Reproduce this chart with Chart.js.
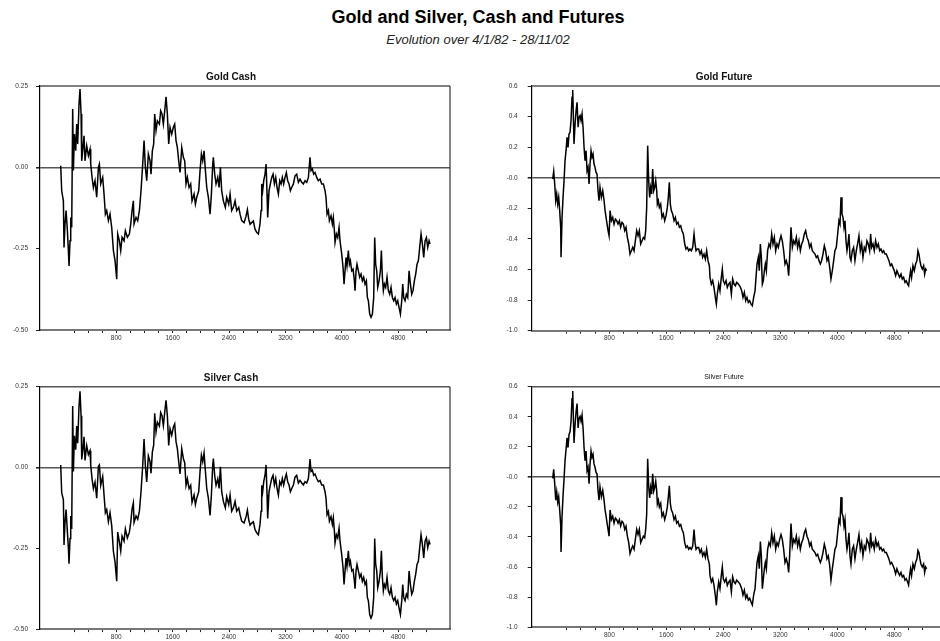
<!DOCTYPE html>
<html>
<head>
<meta charset="utf-8">
<script src="https://cdn.jsdelivr.net/npm/chart.js@4.4.1/dist/chart.umd.min.js"></script>
<style>
  html, body { margin: 0; padding: 0; background: #fff; overflow: hidden; width: 940px; height: 641px; }
  body { position: relative; font-family: "Liberation Sans", Arial, sans-serif; }
  #title { position: absolute; left: 8px; width: 940px; top: 7px; text-align: center; font-weight: bold; font-size: 18px; color: #000; }
  #subtitle { position: absolute; left: 8px; width: 940px; top: 32px; text-align: center; font-style: italic; font-size: 13px; color: #222; }
  canvas { position: absolute; }
</style>
</head>
<body>
<div id="title">Gold and Silver, Cash and Futures</div>
<div id="subtitle">Evolution over 4/1/82 - 28/11/02</div>
<canvas id="goldCash" width="470" height="290" style="left:0;top:60px"></canvas>
<canvas id="goldFuture" width="480" height="290" style="left:470px;top:60px"></canvas>
<canvas id="silverCash" width="470" height="291" style="left:0;top:350px"></canvas>
<canvas id="silverFuture" width="480" height="291" style="left:470px;top:350px"></canvas>
<script>
const FONT = '"Liberation Sans", Arial, sans-serif';

// observation number on x, tick marks every 200, labels every 800
const X_TICKS = [200, 400, 600, 800, 1000, 1200, 1400, 1600, 1800, 2000, 2200, 2400, 2600,
  2800, 3000, 3200, 3400, 3600, 3800, 4000, 4200, 4400, 4600, 4800, 5000, 5200];
const X_LABELS = [800, 1600, 2400, 3200, 4000, 4800];
const CASH_Y_TICKS = [-0.5, -0.25, 0, 0.25];
const FUT_Y_TICKS = [-1.0, -0.8, -0.6, -0.4, -0.2, 0, 0.2, 0.4, 0.6];

// [observation, value]
const GOLD_CASH = [
  [11,0.005],[25,-0.072],[49,-0.103],[58,-0.246],[72,-0.174],[87,-0.133],[106,-0.195],[120,-0.256],
  [129,-0.303],[143,-0.226],[153,-0.154],[167,-0.185],[181,0.179],[191,-0.010],[205,0.102],[224,0.051],
  [238,0.133],[252,0.072],[271,0.195],[285,0.241],[300,0.164],[309,0.020],[323,0.051],[342,0.097],
  [356,0.020],[380,0.066],[404,0.036],[427,0.056],[437,0.010],[456,-0.031],[475,-0.062],[498,-0.041],
  [522,-0.092],[546,0.000],[560,0.010],[579,-0.051],[607,-0.031],[626,-0.082],[645,-0.144],[664,-0.133],
  [688,-0.164],[711,-0.144],[735,-0.185],[759,-0.256],[782,-0.287],[806,-0.344],[820,-0.205],[844,-0.226],
  [863,-0.256],[882,-0.215],[910,-0.226],[929,-0.195],[957,-0.215],[986,-0.205],[1005,-0.174],[1024,-0.133],
  [1042,-0.103],[1052,-0.174],[1080,-0.154],[1104,-0.164],[1128,-0.133],[1151,-0.072],[1175,0.010],[1194,0.082],
  [1213,0.000],[1232,-0.041],[1255,0.041],[1279,0.020],[1293,-0.021],[1312,0.051],[1331,0.072],[1345,0.164],
  [1364,0.113],[1383,0.143],[1412,0.133],[1430,0.174],[1449,0.164],[1468,0.133],[1492,0.184],[1506,0.217],
  [1525,0.164],[1544,0.072],[1563,0.123],[1587,0.102],[1610,0.123],[1629,0.133],[1648,0.082],[1667,0.061],
  [1686,0.020],[1705,-0.016],[1729,0.061],[1752,0.031],[1771,0.020],[1790,-0.051],[1809,-0.031],[1833,-0.062],
  [1856,-0.051],[1875,-0.103],[1904,-0.082],[1923,-0.113],[1942,-0.092],[1970,-0.072],[1989,-0.010],[2008,0.041],
  [2027,0.020],[2046,0.051],[2065,-0.010],[2084,-0.062],[2107,-0.092],[2131,-0.144],[2150,-0.082],[2169,0.010],
  [2178,0.031],[2197,-0.021],[2216,-0.051],[2240,-0.031],[2259,-0.062],[2278,0.000],[2296,-0.072],[2320,-0.103],
  [2348,-0.123],[2367,-0.092],[2396,-0.113],[2415,-0.082],[2438,-0.133],[2462,-0.123],[2486,-0.103],[2509,-0.133],
  [2538,-0.123],[2557,-0.144],[2580,-0.164],[2614,-0.170],[2642,-0.150],[2661,-0.130],[2680,-0.160],[2699,-0.175],
  [2722,-0.170],[2746,-0.165],[2769,-0.190],[2793,-0.200],[2817,-0.205],[2840,-0.174],[2855,-0.133],[2864,-0.051],
  [2878,-0.072],[2893,-0.041],[2911,-0.021],[2926,0.010],[2940,-0.082],[2949,-0.154],[2968,-0.072],[2987,-0.051],
  [3006,-0.031],[3025,-0.021],[3044,-0.051],[3063,-0.031],[3082,-0.062],[3101,-0.082],[3120,-0.041],[3139,-0.051],
  [3157,-0.031],[3176,-0.051],[3195,-0.031],[3214,-0.016],[3233,-0.041],[3252,-0.051],[3271,-0.072],[3290,-0.062],
  [3314,-0.051],[3337,-0.026],[3361,-0.021],[3385,-0.046],[3408,-0.036],[3432,-0.046],[3456,-0.051],[3479,-0.041],
  [3503,-0.046],[3527,-0.031],[3550,0.031],[3564,-0.010],[3583,-0.005],[3602,-0.021],[3621,-0.016],[3645,-0.031],
  [3668,-0.041],[3692,-0.036],[3716,-0.051],[3740,-0.051],[3763,-0.072],[3777,-0.092],[3792,-0.144],[3811,-0.133],
  [3825,-0.164],[3848,-0.149],[3867,-0.174],[3881,-0.154],[3896,-0.195],[3905,-0.231],[3924,-0.205],[3943,-0.216],
  [3962,-0.185],[3976,-0.226],[4000,-0.267],[4019,-0.308],[4033,-0.359],[4047,-0.318],[4061,-0.277],[4075,-0.303],
  [4094,-0.256],[4109,-0.298],[4123,-0.287],[4142,-0.318],[4161,-0.313],[4180,-0.349],[4189,-0.379],[4203,-0.318],
  [4217,-0.298],[4236,-0.318],[4255,-0.338],[4274,-0.328],[4293,-0.349],[4312,-0.338],[4331,-0.359],[4350,-0.349],
  [4364,-0.400],[4378,-0.410],[4397,-0.451],[4416,-0.461],[4435,-0.451],[4454,-0.400],[4468,-0.216],[4482,-0.298],
  [4497,-0.318],[4511,-0.369],[4530,-0.349],[4549,-0.318],[4563,-0.256],[4577,-0.338],[4591,-0.379],[4606,-0.359],
  [4624,-0.369],[4643,-0.338],[4662,-0.379],[4681,-0.390],[4700,-0.369],[4719,-0.400],[4738,-0.410],[4757,-0.400],
  [4776,-0.420],[4795,-0.410],[4814,-0.431],[4833,-0.451],[4852,-0.410],[4866,-0.359],[4880,-0.400],[4899,-0.410],
  [4918,-0.390],[4937,-0.400],[4956,-0.318],[4975,-0.359],[4994,-0.390],[5012,-0.379],[5031,-0.349],[5050,-0.328],
  [5069,-0.298],[5088,-0.287],[5107,-0.246],[5126,-0.205],[5145,-0.236],[5164,-0.277],[5183,-0.226],[5202,-0.216],
  [5221,-0.246],[5240,-0.226],[5254,-0.236]
];

const SILVER_CASH = [
  [11,0.008],[25,-0.078],[49,-0.100],[58,-0.240],[72,-0.170],[87,-0.130],[106,-0.200],[120,-0.250],
  [129,-0.298],[143,-0.220],[153,-0.150],[167,-0.190],[181,0.190],[191,-0.012],[205,0.098],[224,0.055],
  [238,0.128],[252,0.075],[271,0.190],[285,0.236],[300,0.160],[309,0.025],[323,0.048],[342,0.095],
  [356,0.022],[380,0.068],[404,0.040],[427,0.052],[437,0.008],[456,-0.035],[475,-0.065],[498,-0.045],
  [522,-0.095],[546,0.004],[560,0.008],[579,-0.055],[607,-0.028],[626,-0.085],[645,-0.140],[664,-0.130],
  [688,-0.168],[711,-0.140],[735,-0.180],[759,-0.260],[782,-0.292],[806,-0.352],[820,-0.200],[844,-0.230],
  [863,-0.258],[882,-0.212],[910,-0.228],[929,-0.190],[957,-0.218],[986,-0.200],[1005,-0.170],[1024,-0.128],
  [1042,-0.110],[1052,-0.170],[1080,-0.150],[1104,-0.160],[1128,-0.135],[1151,-0.075],[1175,0.006],[1194,0.088],
  [1213,0.004],[1232,-0.045],[1255,0.036],[1279,0.018],[1293,-0.018],[1312,0.048],[1331,0.070],[1345,0.168],
  [1364,0.110],[1383,0.140],[1412,0.128],[1430,0.170],[1449,0.160],[1468,0.130],[1492,0.180],[1506,0.208],
  [1525,0.160],[1544,0.068],[1563,0.120],[1587,0.100],[1610,0.125],[1629,0.135],[1648,0.080],[1667,0.058],
  [1686,0.018],[1705,-0.020],[1729,0.058],[1752,0.028],[1771,0.015],[1790,-0.055],[1809,-0.035],[1833,-0.065],
  [1856,-0.055],[1875,-0.108],[1904,-0.085],[1923,-0.115],[1942,-0.095],[1970,-0.075],[1989,-0.012],[2008,0.038],
  [2027,0.018],[2046,0.045],[2065,-0.012],[2084,-0.065],[2107,-0.095],[2131,-0.148],[2150,-0.085],[2169,0.008],
  [2178,0.028],[2197,-0.025],[2216,-0.055],[2240,-0.035],[2259,-0.065],[2278,0.002],[2296,-0.075],[2320,-0.105],
  [2348,-0.125],[2367,-0.090],[2396,-0.115],[2415,-0.085],[2438,-0.135],[2462,-0.125],[2486,-0.105],[2509,-0.135],
  [2538,-0.125],[2557,-0.146],[2580,-0.166],[2614,-0.172],[2642,-0.152],[2661,-0.132],[2680,-0.162],[2699,-0.178],
  [2722,-0.172],[2746,-0.168],[2769,-0.192],[2793,-0.202],[2817,-0.208],[2840,-0.176],[2855,-0.135],[2864,-0.055],
  [2878,-0.075],[2893,-0.044],[2911,-0.024],[2926,0.008],[2940,-0.085],[2949,-0.158],[2968,-0.075],[2987,-0.054],
  [3006,-0.034],[3025,-0.024],[3044,-0.054],[3063,-0.034],[3082,-0.065],[3101,-0.085],[3120,-0.044],[3139,-0.054],
  [3157,-0.034],[3176,-0.054],[3195,-0.034],[3214,-0.020],[3233,-0.044],[3252,-0.054],[3271,-0.075],[3290,-0.065],
  [3314,-0.054],[3337,-0.030],[3361,-0.024],[3385,-0.048],[3408,-0.040],[3432,-0.048],[3456,-0.054],[3479,-0.044],
  [3503,-0.048],[3527,-0.034],[3550,0.026],[3564,-0.012],[3583,-0.008],[3602,-0.024],[3621,-0.020],[3645,-0.034],
  [3668,-0.044],[3692,-0.040],[3716,-0.054],[3740,-0.054],[3763,-0.075],[3777,-0.095],[3792,-0.146],[3811,-0.136],
  [3825,-0.166],[3848,-0.152],[3867,-0.176],[3881,-0.156],[3896,-0.198],[3905,-0.234],[3924,-0.208],[3943,-0.218],
  [3962,-0.188],[3976,-0.228],[4000,-0.270],[4019,-0.310],[4033,-0.362],[4047,-0.320],[4061,-0.280],[4075,-0.306],
  [4094,-0.258],[4109,-0.300],[4123,-0.290],[4142,-0.320],[4161,-0.316],[4180,-0.352],[4189,-0.375],[4203,-0.320],
  [4217,-0.300],[4236,-0.320],[4255,-0.340],[4274,-0.330],[4293,-0.352],[4312,-0.340],[4331,-0.362],[4350,-0.352],
  [4364,-0.402],[4378,-0.412],[4397,-0.455],[4416,-0.466],[4435,-0.455],[4454,-0.402],[4468,-0.220],[4482,-0.300],
  [4497,-0.320],[4511,-0.372],[4530,-0.352],[4549,-0.320],[4563,-0.258],[4577,-0.340],[4591,-0.382],[4606,-0.362],
  [4624,-0.372],[4643,-0.340],[4662,-0.382],[4681,-0.392],[4700,-0.372],[4719,-0.402],[4738,-0.412],[4757,-0.402],
  [4776,-0.422],[4795,-0.412],[4814,-0.435],[4833,-0.455],[4852,-0.412],[4866,-0.362],[4880,-0.402],[4899,-0.412],
  [4918,-0.392],[4937,-0.402],[4956,-0.320],[4975,-0.362],[4994,-0.392],[5012,-0.382],[5031,-0.352],[5050,-0.330],
  [5069,-0.300],[5088,-0.290],[5107,-0.248],[5126,-0.208],[5145,-0.238],[5164,-0.280],[5183,-0.228],[5202,-0.218],
  [5221,-0.248],[5240,-0.228],[5254,-0.238]
];

const GOLD_FUTURE = [
  [5,-0.008],[19,0.042],[33,-0.041],[47,-0.150],[61,-0.106],[75,-0.172],[89,-0.128],[103,-0.215],
  [117,-0.324],[122,-0.520],[136,-0.259],[150,-0.128],[164,-0.019],[178,0.112],[192,0.177],[206,0.264],
  [220,0.199],[234,0.286],[248,0.297],[262,0.373],[276,0.526],[286,0.574],[295,0.395],[304,0.221],
  [319,0.352],[333,0.439],[347,0.493],[361,0.330],[375,0.395],[389,0.406],[403,0.373],[417,0.417],
  [431,0.330],[445,0.199],[459,0.112],[473,0.177],[487,0.046],[501,0.068],[515,-0.041],[529,0.090],
  [543,0.177],[557,0.134],[571,0.155],[585,0.090],[599,0.068],[613,0.035],[627,0.025],[641,-0.085],
  [655,-0.150],[669,-0.063],[688,-0.128],[707,-0.085],[726,-0.150],[740,-0.215],[754,-0.259],[768,-0.303],
  [782,-0.346],[796,-0.379],[810,-0.215],[828,-0.281],[847,-0.259],[866,-0.303],[885,-0.270],[903,-0.281],
  [922,-0.303],[941,-0.281],[959,-0.324],[978,-0.292],[997,-0.303],[1016,-0.346],[1034,-0.324],[1053,-0.390],
  [1072,-0.433],[1090,-0.499],[1109,-0.477],[1128,-0.455],[1147,-0.477],[1165,-0.412],[1184,-0.346],[1203,-0.379],
  [1221,-0.346],[1240,-0.433],[1259,-0.412],[1278,-0.390],[1296,-0.401],[1310,-0.346],[1324,-0.194],[1338,0.210],
  [1352,-0.019],[1366,-0.128],[1380,-0.063],[1394,-0.106],[1408,0.057],[1423,-0.085],[1437,-0.063],[1451,-0.019],
  [1465,-0.085],[1474,-0.172],[1488,-0.150],[1502,-0.194],[1521,-0.172],[1539,-0.259],[1558,-0.237],[1577,-0.281],
  [1596,-0.248],[1614,-0.194],[1628,-0.128],[1642,-0.030],[1656,-0.172],[1670,-0.215],[1689,-0.237],[1708,-0.281],
  [1727,-0.259],[1745,-0.303],[1764,-0.292],[1783,-0.324],[1802,-0.314],[1820,-0.346],[1839,-0.368],[1858,-0.433],
  [1876,-0.466],[1895,-0.455],[1914,-0.477],[1932,-0.466],[1951,-0.477],[1970,-0.455],[1989,-0.368],[2003,-0.433],
  [2017,-0.477],[2035,-0.466],[2054,-0.466],[2073,-0.499],[2092,-0.477],[2110,-0.521],[2129,-0.499],[2148,-0.532],
  [2166,-0.477],[2185,-0.542],[2204,-0.575],[2213,-0.651],[2232,-0.695],[2251,-0.673],[2269,-0.717],[2288,-0.782],
  [2302,-0.826],[2316,-0.760],[2335,-0.695],[2353,-0.739],[2372,-0.651],[2386,-0.597],[2400,-0.673],[2419,-0.695],
  [2438,-0.673],[2456,-0.717],[2475,-0.695],[2494,-0.684],[2513,-0.760],[2531,-0.662],[2550,-0.695],[2569,-0.706],
  [2587,-0.684],[2611,-0.695],[2634,-0.710],[2658,-0.739],[2676,-0.782],[2695,-0.749],[2714,-0.804],[2732,-0.782],
  [2751,-0.815],[2770,-0.804],[2789,-0.826],[2807,-0.837],[2826,-0.782],[2845,-0.739],[2859,-0.651],[2873,-0.564],
  [2891,-0.521],[2905,-0.608],[2920,-0.433],[2934,-0.521],[2948,-0.695],[2962,-0.673],[2976,-0.608],[2990,-0.564],
  [3004,-0.608],[3022,-0.477],[3041,-0.433],[3060,-0.455],[3079,-0.368],[3097,-0.433],[3116,-0.390],[3135,-0.477],
  [3153,-0.433],[3172,-0.455],[3191,-0.412],[3210,-0.379],[3228,-0.412],[3247,-0.477],[3266,-0.564],[3284,-0.542],
  [3303,-0.575],[3317,-0.640],[3331,-0.521],[3350,-0.324],[3369,-0.455],[3387,-0.412],[3406,-0.433],[3425,-0.390],
  [3443,-0.455],[3462,-0.412],[3481,-0.477],[3500,-0.433],[3518,-0.412],[3537,-0.368],[3556,-0.346],[3574,-0.390],
  [3593,-0.412],[3612,-0.455],[3631,-0.433],[3649,-0.477],[3668,-0.488],[3687,-0.499],[3705,-0.521],[3724,-0.510],
  [3743,-0.542],[3762,-0.564],[3780,-0.542],[3799,-0.499],[3818,-0.444],[3836,-0.477],[3855,-0.542],[3874,-0.521],
  [3893,-0.586],[3911,-0.662],[3930,-0.608],[3949,-0.542],[3967,-0.477],[3986,-0.455],[4005,-0.368],[4023,-0.281],
  [4038,-0.303],[4052,-0.128],[4066,-0.237],[4080,-0.259],[4094,-0.324],[4108,-0.281],[4122,-0.412],[4136,-0.477],
  [4150,-0.433],[4164,-0.368],[4178,-0.521],[4192,-0.542],[4211,-0.477],[4229,-0.455],[4248,-0.542],[4267,-0.477],
  [4285,-0.433],[4304,-0.379],[4323,-0.477],[4342,-0.433],[4360,-0.521],[4379,-0.455],[4398,-0.477],[4416,-0.412],
  [4435,-0.433],[4454,-0.477],[4468,-0.368],[4482,-0.455],[4501,-0.433],[4519,-0.477],[4538,-0.412],[4557,-0.455],
  [4576,-0.433],[4594,-0.477],[4613,-0.466],[4632,-0.488],[4650,-0.477],[4669,-0.499],[4688,-0.499],[4707,-0.521],
  [4725,-0.542],[4744,-0.575],[4763,-0.564],[4781,-0.586],[4800,-0.608],[4819,-0.640],[4837,-0.608],[4856,-0.630],
  [4875,-0.651],[4894,-0.630],[4912,-0.662],[4931,-0.651],[4950,-0.684],[4968,-0.673],[4987,-0.695],[5001,-0.706],
  [5015,-0.651],[5029,-0.608],[5043,-0.651],[5062,-0.575],[5081,-0.608],[5099,-0.564],[5118,-0.542],[5132,-0.477],
  [5146,-0.499],[5160,-0.542],[5174,-0.575],[5193,-0.597],[5212,-0.575],[5226,-0.630],[5240,-0.597],[5254,-0.608]
];

const SILVER_FUTURE = [
  [5,-0.010],[19,0.050],[33,-0.045],[47,-0.155],[61,-0.100],[75,-0.168],[89,-0.132],[103,-0.220],
  [117,-0.320],[122,-0.500],[136,-0.262],[150,-0.125],[164,-0.015],[178,0.108],[192,0.180],[206,0.260],
  [220,0.195],[234,0.282],[248,0.300],[262,0.368],[276,0.520],[286,0.572],[295,0.390],[304,0.225],
  [319,0.348],[333,0.435],[347,0.488],[361,0.325],[375,0.390],[389,0.402],[403,0.370],[417,0.412],
  [431,0.325],[445,0.195],[459,0.108],[473,0.172],[487,0.042],[501,0.064],[515,-0.045],[529,0.086],
  [543,0.172],[557,0.130],[571,0.150],[585,0.086],[599,0.064],[613,0.030],[627,0.020],[641,-0.090],
  [655,-0.155],[669,-0.068],[688,-0.132],[707,-0.090],[726,-0.155],[740,-0.220],[754,-0.262],[768,-0.308],
  [782,-0.350],[796,-0.395],[810,-0.220],[828,-0.285],[847,-0.262],[866,-0.308],[885,-0.275],[903,-0.285],
  [922,-0.308],[941,-0.285],[959,-0.328],[978,-0.296],[997,-0.308],[1016,-0.350],[1034,-0.328],[1053,-0.395],
  [1072,-0.438],[1090,-0.510],[1109,-0.482],[1128,-0.460],[1147,-0.482],[1165,-0.416],[1184,-0.350],[1203,-0.384],
  [1221,-0.350],[1240,-0.438],[1259,-0.416],[1278,-0.395],[1296,-0.405],[1310,-0.350],[1324,-0.250],[1338,0.120],
  [1352,-0.060],[1366,-0.140],[1380,-0.070],[1394,-0.115],[1408,0.020],[1423,-0.095],[1437,-0.070],[1451,-0.030],
  [1465,-0.095],[1474,-0.180],[1488,-0.155],[1502,-0.200],[1521,-0.176],[1539,-0.262],[1558,-0.240],[1577,-0.285],
  [1596,-0.252],[1614,-0.200],[1628,-0.135],[1642,-0.060],[1656,-0.176],[1670,-0.220],[1689,-0.240],[1708,-0.285],
  [1727,-0.262],[1745,-0.308],[1764,-0.296],[1783,-0.328],[1802,-0.318],[1820,-0.350],[1839,-0.372],[1858,-0.438],
  [1876,-0.470],[1895,-0.460],[1914,-0.482],[1932,-0.470],[1951,-0.482],[1970,-0.460],[1989,-0.350],[2003,-0.438],
  [2017,-0.482],[2035,-0.470],[2054,-0.470],[2073,-0.504],[2092,-0.482],[2110,-0.526],[2129,-0.504],[2148,-0.536],
  [2166,-0.482],[2185,-0.546],[2204,-0.580],[2213,-0.656],[2232,-0.700],[2251,-0.678],[2269,-0.722],[2288,-0.790],
  [2302,-0.855],[2316,-0.765],[2335,-0.700],[2353,-0.744],[2372,-0.656],[2386,-0.600],[2400,-0.678],[2419,-0.700],
  [2438,-0.678],[2456,-0.722],[2475,-0.700],[2494,-0.688],[2513,-0.765],[2531,-0.666],[2550,-0.700],[2569,-0.710],
  [2587,-0.688],[2611,-0.700],[2634,-0.714],[2658,-0.744],[2676,-0.786],[2695,-0.754],[2714,-0.808],[2732,-0.786],
  [2751,-0.820],[2770,-0.808],[2789,-0.832],[2807,-0.852],[2826,-0.786],[2845,-0.744],[2859,-0.656],[2873,-0.570],
  [2891,-0.526],[2905,-0.612],[2920,-0.430],[2934,-0.526],[2948,-0.745],[2962,-0.678],[2976,-0.612],[2990,-0.570],
  [3004,-0.612],[3022,-0.482],[3041,-0.438],[3060,-0.460],[3079,-0.372],[3097,-0.438],[3116,-0.395],[3135,-0.482],
  [3153,-0.438],[3172,-0.460],[3191,-0.416],[3210,-0.384],[3228,-0.416],[3247,-0.482],[3266,-0.570],[3284,-0.546],
  [3303,-0.580],[3317,-0.636],[3331,-0.526],[3350,-0.310],[3369,-0.460],[3387,-0.416],[3406,-0.438],[3425,-0.395],
  [3443,-0.460],[3462,-0.416],[3481,-0.482],[3500,-0.438],[3518,-0.416],[3537,-0.372],[3556,-0.350],[3574,-0.395],
  [3593,-0.416],[3612,-0.460],[3631,-0.438],[3649,-0.482],[3668,-0.492],[3687,-0.504],[3705,-0.526],[3724,-0.515],
  [3743,-0.546],[3762,-0.570],[3780,-0.546],[3799,-0.504],[3818,-0.448],[3836,-0.482],[3855,-0.546],[3874,-0.526],
  [3893,-0.590],[3911,-0.688],[3930,-0.612],[3949,-0.546],[3967,-0.482],[3986,-0.460],[4005,-0.372],[4023,-0.285],
  [4038,-0.308],[4052,-0.135],[4066,-0.240],[4080,-0.262],[4094,-0.328],[4108,-0.285],[4122,-0.416],[4136,-0.482],
  [4150,-0.438],[4164,-0.372],[4178,-0.526],[4192,-0.580],[4211,-0.482],[4229,-0.460],[4248,-0.546],[4267,-0.482],
  [4285,-0.438],[4304,-0.384],[4323,-0.482],[4342,-0.438],[4360,-0.526],[4379,-0.460],[4398,-0.482],[4416,-0.416],
  [4435,-0.438],[4454,-0.482],[4468,-0.372],[4482,-0.460],[4501,-0.438],[4519,-0.482],[4538,-0.416],[4557,-0.460],
  [4576,-0.438],[4594,-0.482],[4613,-0.470],[4632,-0.492],[4650,-0.482],[4669,-0.504],[4688,-0.504],[4707,-0.526],
  [4725,-0.546],[4744,-0.580],[4763,-0.570],[4781,-0.590],[4800,-0.612],[4819,-0.645],[4837,-0.612],[4856,-0.636],
  [4875,-0.656],[4894,-0.636],[4912,-0.666],[4931,-0.656],[4950,-0.688],[4968,-0.678],[4987,-0.700],[5001,-0.720],
  [5015,-0.656],[5029,-0.612],[5043,-0.656],[5062,-0.580],[5081,-0.612],[5099,-0.570],[5118,-0.546],[5132,-0.490],
  [5146,-0.504],[5160,-0.546],[5174,-0.580],[5193,-0.600],[5212,-0.580],[5226,-0.636],[5240,-0.600],[5254,-0.612]
];

const cashFmt = v => v.toFixed(2);
const futFmt = v => (v === 0 ? '-0.0' : v.toFixed(1));

// top and right edges of the plot box
const frame = {
  id: 'frame',
  afterDraw(chart) {
    const { ctx, chartArea: a } = chart;
    ctx.save();
    ctx.strokeStyle = '#555';
    ctx.lineWidth = 1.5;
    ctx.beginPath();
    ctx.moveTo(a.left, a.top);
    ctx.lineTo(a.right, a.top);
    ctx.stroke();
    ctx.strokeStyle = '#333';
    ctx.lineWidth = 1.2;
    ctx.beginPath();
    ctx.moveTo(a.right, a.top);
    ctx.lineTo(a.right, a.bottom);
    ctx.stroke();
    ctx.restore();
  }
};

function drawPanel(id, title, series, yTicks, fmt, lay) {
  new Chart(document.getElementById(id), {
    type: 'line',
    data: {
      datasets: [{
        data: series.map(p => ({ x: p[0], y: p[1] })),
        borderColor: '#000',
        borderWidth: 1.5,
        pointRadius: 0,
        tension: 0
      }]
    },
    options: {
      responsive: false,
      animation: false,
      devicePixelRatio: 1,
      layout: { padding: lay.pad },
      plugins: {
        legend: { display: false },
        tooltip: { enabled: false },
        title: {
          display: true,
          text: title.text,
          color: '#111',
          font: { family: FONT, size: title.size, weight: title.weight },
          padding: title.pad
        }
      },
      scales: {
        x: {
          type: 'linear',
          min: lay.xMin,
          max: lay.xMax,
          afterBuildTicks: s => { s.ticks = X_TICKS.map(v => ({ value: v })); },
          afterFit: s => { s.height = lay.xh; },
          ticks: {
            autoSkip: false,
            maxRotation: 0,
            padding: 1,
            color: '#333',
            font: { family: FONT, size: 6.5 },
            callback: v => (X_LABELS.includes(v) ? String(v) : '')
          },
          grid: { drawOnChartArea: false, tickLength: 3, color: '#222' },
          border: { color: '#777', width: 2 }
        },
        y: {
          min: yTicks[0],
          max: yTicks[yTicks.length - 1],
          afterBuildTicks: s => { s.ticks = yTicks.map(v => ({ value: v })); },
          afterFit: s => { s.width = lay.yw; },
          ticks: {
            padding: lay.yPad,
            color: '#333',
            font: { family: FONT, size: 6.5 },
            callback: fmt
          },
          grid: {
            color: c => (c.tick && c.tick.value === 0 ? '#555' : 'rgba(0,0,0,0)'),
            lineWidth: c => (c.tick && c.tick.value === 0 ? 1.6 : 1),
            tickColor: '#222',
            tickLength: 4
          },
          border: { color: '#000', width: 1.2 }
        }
      }
    },
    plugins: [frame]
  });
}

const leftTop = { pad: { left: 12, right: 20, top: 0, bottom: 8 }, yw: 28, xh: 12, yPad: 8, xMin: -283, xMax: 5537 };
const rightTop = { pad: { left: 31, right: 3, top: 0, bottom: 8 }, yw: 30.7, xh: 11.3, yPad: 10, xMin: -290, xMax: 5540 };
const leftBottom = { pad: { left: 12, right: 20, top: 0, bottom: 0 }, yw: 28, xh: 10, yPad: 8, xMin: -283, xMax: 5537 };
const rightBottom = { pad: { left: 31, right: 3, top: 0, bottom: 0 }, yw: 30.7, xh: 10, yPad: 10, xMin: -290, xMax: 5540 };

drawPanel('goldCash', { text: 'Gold Cash', size: 10, weight: 'bold', pad: { top: 11, bottom: 3 } },
  GOLD_CASH, CASH_Y_TICKS, cashFmt, leftTop);
drawPanel('goldFuture', { text: 'Gold Future', size: 10, weight: 'bold', pad: { top: 11, bottom: 3 } },
  GOLD_FUTURE, FUT_Y_TICKS, futFmt, rightTop);
drawPanel('silverCash', { text: 'Silver Cash', size: 10, weight: 'bold', pad: { top: 22.3, bottom: 2.4 } },
  SILVER_CASH, CASH_Y_TICKS, cashFmt, leftBottom);
drawPanel('silverFuture', { text: 'Silver Future', size: 7, weight: 'normal', pad: { top: 23.1, bottom: 5.2 } },
  SILVER_FUTURE, FUT_Y_TICKS, futFmt, rightBottom);
</script>
</body>
</html>
